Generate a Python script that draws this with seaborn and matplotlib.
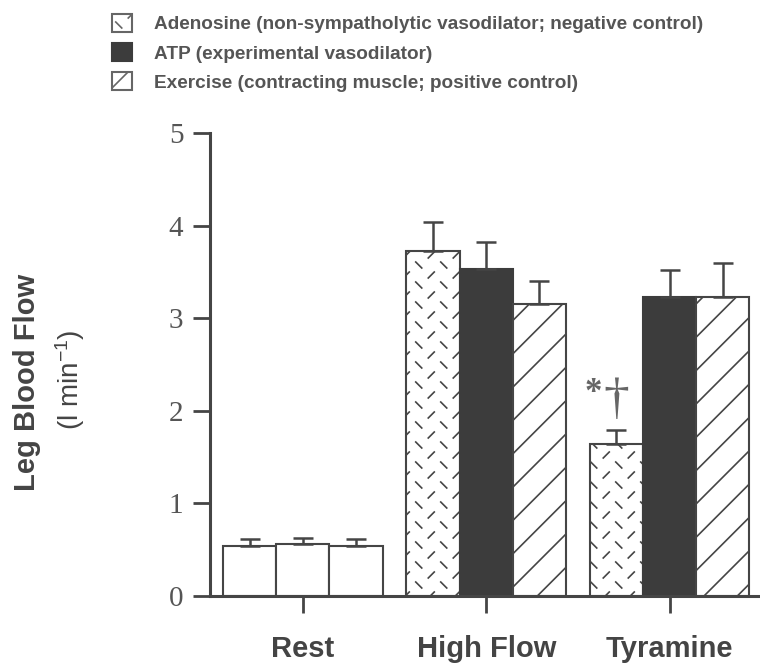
import warnings
import numpy as np
import pandas as pd
import matplotlib
matplotlib.use('Agg')
import matplotlib.pyplot as plt
import matplotlib.hatch as mhatch
from matplotlib.path import Path
from matplotlib.patches import Patch
import seaborn as sns

warnings.filterwarnings('ignore')

# data (mean and SE, l/min)
conditions = ['Rest', 'High Flow', 'Tyramine']
treatments = ['Adenosine (non-sympatholytic vasodilator; negative control)',
              'ATP (experimental vasodilator)',
              'Exercise (contracting muscle; positive control)']
adenosine_mean = [0.54, 3.73, 1.64]
adenosine_se = [0.07, 0.31, 0.15]
atp_mean = [0.555, 3.53, 3.23]
atp_se = [0.075, 0.29, 0.29]
exercise_mean = [0.54, 3.15, 3.23]
exercise_se = [0.07, 0.25, 0.36]

means = [adenosine_mean, atp_mean, exercise_mean]
ses = [adenosine_se, atp_se, exercise_se]
df = pd.DataFrame({
    'condition': conditions * 3,
    'treatment': [t for t in treatments for _ in conditions],
    'flow': adenosine_mean + atp_mean + exercise_mean,
})


# custom hatch: short broken strokes, '/' and '\' on alternate rows
class DashHatch(mhatch.HatchPatternBase):
    def __init__(self, hatch, density):
        self.num_rows = 10 if 'd' in hatch else 0
        self.per_row = 4
        self.num_vertices = self.num_rows * self.per_row * 2

    def set_vertices_and_codes(self, vertices, codes):
        h = 0.03
        i = 0
        for r in range(self.num_rows):
            y = (r + 0.5) / self.num_rows
            off = 0.0 if r % 2 == 0 else 0.125
            sgn = 1 if r % 2 == 0 else -1
            for c in range(self.per_row):
                x = off + c * 0.25 + 0.0625
                vertices[i] = (x - h, y - sgn * h)
                vertices[i + 1] = (x + h, y + sgn * h)
                codes[i] = Path.MOVETO
                codes[i + 1] = Path.LINETO
                i += 2


mhatch._hatch_types.append(DashHatch)

edge = '#454545'
dark = '#3c3c3c'
hatches = ['d', None, '/']

sns.set_style('ticks')
plt.rcParams['font.family'] = ['Liberation Sans', 'DejaVu Sans']
plt.rcParams['mathtext.default'] = 'regular'
plt.rcParams['hatch.linewidth'] = 1.2

fig = plt.figure(figsize=(7.6, 6.68), dpi=100)
ax = fig.add_axes([0.276, 0.108, 0.721, 0.693])

sns.barplot(data=df, x='condition', y='flow', hue='treatment',
            order=conditions, hue_order=treatments, palette=['white'] * 3,
            width=0.87, edgecolor=edge, linewidth=1.5, errorbar=None,
            saturation=1, legend=False, ax=ax)

bars = list(ax.containers)
for i, cont in enumerate(bars):
    for j, b in enumerate(cont):
        if conditions[j] == 'Rest':
            continue
        if i == 1:
            b.set_facecolor(dark)
            b.set_edgecolor(dark)
        else:
            b.set_hatch(hatches[i])
    xs = [b.get_x() + b.get_width() / 2 for b in cont]
    ys = [b.get_height() for b in cont]
    ax.errorbar(xs, ys, yerr=[np.zeros(len(xs)), ses[i]], fmt='none',
                ecolor=edge, elinewidth=1.8, capsize=7, capthick=1.8, zorder=1)

# significance marks over adenosine + tyramine
b = bars[0][2]
top = (b.get_x() + b.get_width() / 2, adenosine_mean[2] + adenosine_se[2])
ax.annotate('*', xy=top, xytext=(-17, 20), textcoords='offset points',
            ha='center', va='baseline', fontsize=25, weight='bold',
            family='Liberation Serif', color='#666666')
ax.annotate('†', xy=top, xytext=(0, 12), textcoords='offset points',
            ha='center', va='baseline', fontsize=37, family='Liberation Serif',
            color='#666666')

ax.set_xlim(-0.507, 2.48)
ax.set_ylim(0, 5)
ax.set_yticks([0, 1, 2, 3, 4, 5])
ax.set_xlabel('')
ax.set_ylabel('')
sns.despine(ax=ax)
for s in ['left', 'bottom']:
    ax.spines[s].set_linewidth(2.2)
    ax.spines[s].set_color(edge)
ax.tick_params(axis='both', length=12, width=2, color=edge)
ax.tick_params(axis='y', pad=7)
ax.tick_params(axis='x', pad=16)
for lab in ax.get_yticklabels():
    lab.set_family('Liberation Serif')
    lab.set_fontsize(21)
    lab.set_color('#555555')
for lab in ax.get_xticklabels():
    lab.set_fontsize(21)
    lab.set_weight('bold')
    lab.set_color('#444444')

fig.text(27 / 760, 1 - 382 / 668, 'Leg Blood Flow', rotation=90, ha='center', va='center',
         fontsize=21, weight='bold', color='#444444')
fig.text(70 / 760, 1 - 380 / 668, '(l min$^{-1}$)', rotation=90, ha='center', va='center',
         fontsize=20, color='#444444')

handles = [Patch(facecolor='white', edgecolor='#666666', hatch='d', linewidth=1.5),
           Patch(facecolor=dark, edgecolor=dark, linewidth=1.5),
           Patch(facecolor='white', edgecolor='#666666', hatch='/', linewidth=1.5)]
fig.legend(handles, treatments, loc='upper left', bbox_to_anchor=(112 / 760, 1 - 14 / 668),
           frameon=False, handlelength=1.05, handleheight=1.05,
           handletextpad=1.15, labelspacing=0.52, borderpad=0, borderaxespad=0,
           labelcolor='#555555', prop={'weight': 'bold', 'size': 13.7})

fig.savefig('out.png', dpi=100)
